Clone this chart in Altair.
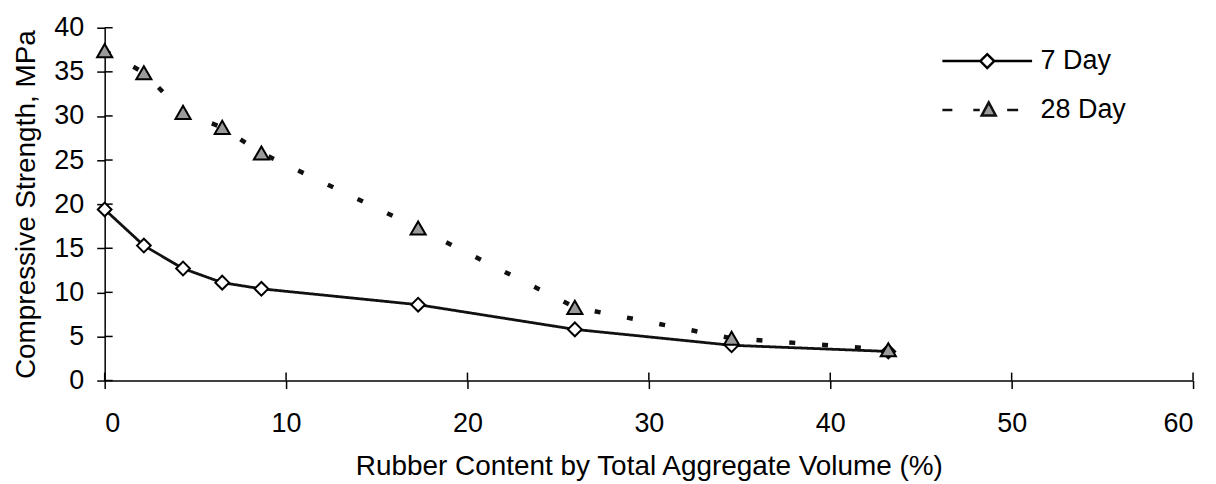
import altair as alt
import pandas as pd

# ---- data ----
rubber_pct = [0, 2.16, 4.32, 6.48, 8.64, 17.28, 25.92, 34.56, 43.2]
strength_7day = [19.4, 15.3, 12.7, 11.1, 10.4, 8.6, 5.8, 4.0, 3.3]
strength_28day = [37.4, 34.9, 30.4, 28.7, 25.8, 17.3, 8.3, 4.8, 3.5]
series_names = ["7 Day", "28 Day"]
y_ticks = [0, 5, 10, 15, 20, 25, 30, 35, 40]
x_ticks = [0, 10, 20, 30, 40, 50, 60]

rows = []
for name, vals in zip(series_names, [strength_7day, strength_28day]):
    for xv, yv in zip(rubber_pct, vals):
        rows.append({"x": xv, "y": yv, "series": name})
df = pd.DataFrame(rows)

W, H = 1092, 354
FONT = "Liberation Sans"

# legend symbol paths (units of 10 px at symbolSize 400): line + marker
p7 = "M-4.5,0L-0.7,0M0.7,0L4.5,0M-0.7,0L0,-0.7L0.7,0L0,0.7Z"
p28 = ("M-4.5,0L-3.5,0M-1.4,0L-0.75,0M2.0,0L3.1,0"
       "M-0.55,0.55L0.15,-0.75L0.85,0.55Z")

xs = alt.Scale(domain=[0, 60], nice=False, zero=False)
ys = alt.Scale(domain=[0, 40], nice=False)

axis_common = dict(grid=False, tickSize=8, domainColor="black", domainWidth=1.5,
                   tickColor="black", tickWidth=1.5, labelFontSize=27, titleFontSize=28,
                   labelFont=FONT, titleFont=FONT, titleFontWeight="normal",
                   labelColor="black", titleColor="black")

base = alt.Chart(df)

lines = base.mark_line(color="#111111").encode(
    x=alt.X("x:Q", scale=xs,
            axis=alt.Axis(values=x_ticks, title="Rubber Content by Total Aggregate Volume (%)",
                          labelPadding=22, titlePadding=16, **axis_common)),
    y=alt.Y("y:Q", scale=ys,
            axis=alt.Axis(values=y_ticks, title="Compressive Strength, MPa",
                          labelPadding=13, titlePadding=13, **axis_common)),
    strokeDash=alt.StrokeDash("series:N", sort=series_names,
        scale=alt.Scale(domain=series_names, range=[[1, 0], [6, 27]]), legend=None),
    strokeWidth=alt.StrokeWidth("series:N", sort=series_names,
        scale=alt.Scale(domain=series_names, range=[2.8, 4.5]), legend=None),
)

points = base.mark_point(filled=True, stroke="black", strokeWidth=2, opacity=1).encode(
    x=alt.X("x:Q", scale=xs),
    y=alt.Y("y:Q", scale=ys),
    shape=alt.Shape("series:N", scale=alt.Scale(domain=series_names, range=["diamond", "triangle-up"]), legend=None),
    fill=alt.Fill("series:N", scale=alt.Scale(domain=series_names, range=["white", "#9a9a9a"]), legend=None),
    size=alt.Size("series:N", scale=alt.Scale(domain=series_names, range=[190, 230]), legend=None),
)

leg = dict(title=None, orient="none", legendX=872, legendY=20, padding=0,
           symbolSize=400, symbolStrokeWidth=2.5, symbolOpacity=1,
           labelFontSize=27, labelFont=FONT, labelColor="black",
           labelOffset=40, rowPadding=21)

# legend-only layer (no rows pass the filter; the legend comes from the explicit domains)
legend_layer = base.transform_filter("datum.x < -1").mark_point(
    filled=True, stroke="black", strokeWidth=2.5, opacity=1).encode(
    x=alt.X("x:Q", scale=xs),
    y=alt.Y("y:Q", scale=ys),
    shape=alt.Shape("series:N", sort=series_names,
                    scale=alt.Scale(domain=series_names, range=[p7, p28]),
                    legend=alt.Legend(**leg)),
    fill=alt.Fill("series:N", sort=series_names,
                  scale=alt.Scale(domain=series_names, range=["white", "#9a9a9a"]),
                  legend=alt.Legend(**leg)),
    stroke=alt.Stroke("series:N", sort=series_names,
                      scale=alt.Scale(domain=series_names, range=["black", "#111111"]),
                      legend=alt.Legend(**leg)),
)

# inward halves of the crossing tick marks
ytick_df = pd.DataFrame({"t": y_ticks})
xtick_df = pd.DataFrame({"t": x_ticks})
yt = alt.Chart(ytick_df).mark_rule(color="black", strokeWidth=1.5).encode(
    y=alt.Y("t:Q", scale=ys), x=alt.value(0), x2=alt.value(8))
xt = alt.Chart(xtick_df).mark_rule(color="black", strokeWidth=1.5).encode(
    x=alt.X("t:Q", scale=xs), y=alt.value(H - 8), y2=alt.value(H))

chart = alt.layer(yt, xt, lines, points, legend_layer).resolve_scale(
    shape="independent", fill="independent", stroke="independent"
).properties(
    width=W, height=H,
    autosize=alt.AutoSizeParams(type="none"),
    padding={"left": 97, "top": 19, "right": 15, "bottom": 103},
    background="white",
).configure_view(stroke=None)

chart.save("out.html", embed_options={"renderer": "svg", "actions": False})
